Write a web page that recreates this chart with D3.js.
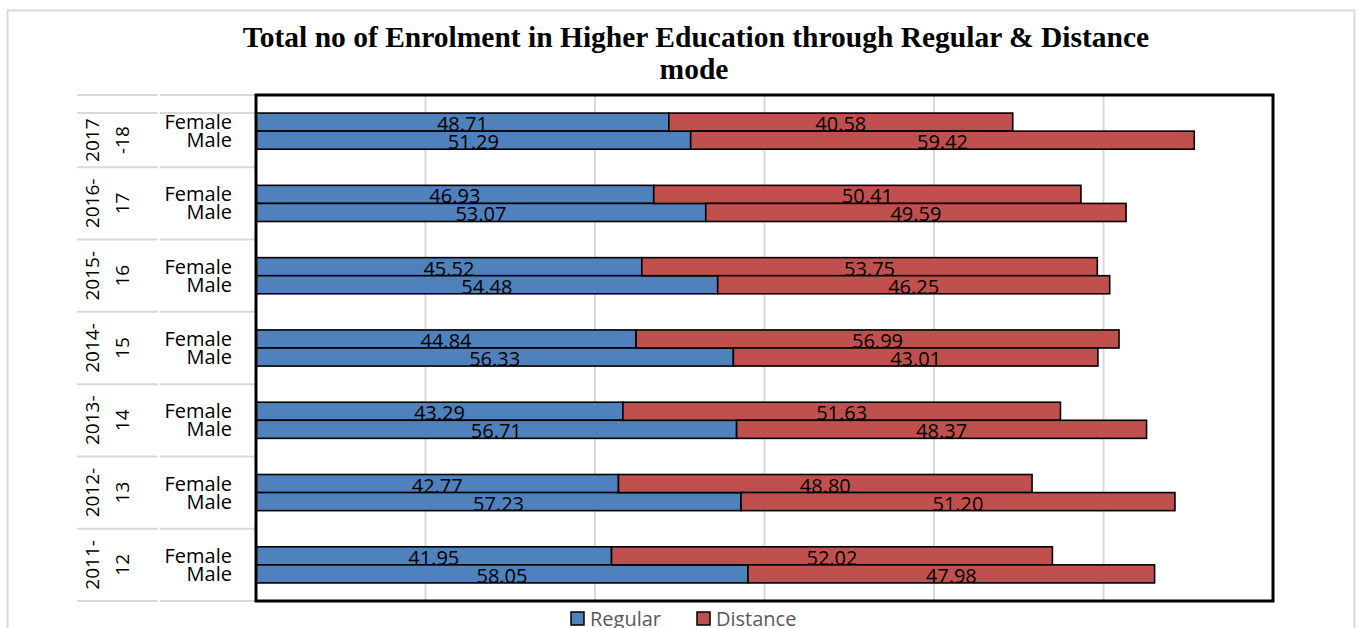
<!DOCTYPE html>
<html>
<head>
<meta charset="utf-8">
<script src="https://cdn.jsdelivr.net/npm/d3@7"></script>
<style>
  body { margin: 0; background: #fff; }
  svg { display: block; }
</style>
</head>
<body>
<svg width="1358" height="628"></svg>
<script>
// years top to bottom, as in the picture
const years = [["2017", "-18"], ["2016-", "17"], ["2015-", "16"], ["2014-", "15"],
               ["2013-", "14"], ["2012-", "13"], ["2011-", "12"]];
const genders = ["Female", "Male"];
const series = ["Regular", "Distance"];
const regularFemale  = [48.71, 46.93, 45.52, 44.84, 43.29, 42.77, 41.95];
const regularMale    = [51.29, 53.07, 54.48, 56.33, 56.71, 57.23, 58.05];
const distanceFemale = [40.58, 50.41, 53.75, 56.99, 51.63, 48.80, 52.02];
const distanceMale   = [59.42, 49.59, 46.25, 43.01, 48.37, 51.20, 47.98];
const xTicks = [0, 20, 40, 60, 80, 100, 120];

const colors = {Regular: "#4F81BD", Distance: "#C0504D"};

const svg = d3.select("svg");
const plotL = 256, plotR = 1273, plotT = 95, plotB = 601;

// outer chart border
svg.append("rect")
  .attr("x", 7.5).attr("y", 10.5)
  .attr("width", 1347).attr("height", 640)
  .attr("fill", "none").attr("stroke", "#d9d9d9").attr("stroke-width", 2);

// title
const title = svg.append("text")
  .attr("text-anchor", "middle")
  .style("font-family", "'Liberation Serif', 'Times New Roman', serif")
  .style("font-weight", "bold").style("font-size", "29.5px");
title.append("tspan").attr("x", 696).attr("y", 47)
  .text("Total no of Enrolment in Higher Education through Regular & Distance");
title.append("tspan").attr("x", 694).attr("y", 79).text("mode");

const yearKeys = years.map(d => d.join(""));
const y = d3.scaleBand().domain(yearKeys).range([plotT, plotB]);
const yInner = d3.scaleBand().domain(genders).range([0, y.bandwidth()]).paddingOuter(1);
const x = d3.scaleLinear().domain([0, 120]).range([plotL, plotR]);

// gridlines
svg.append("g").selectAll("line")
  .data(xTicks.slice(1, -1))
  .join("line")
  .attr("x1", d => x(d)).attr("x2", d => x(d))
  .attr("y1", plotT).attr("y2", plotB)
  .attr("stroke", "#d9d9d9").attr("stroke-width", 2);

// category table lines
const sepYs = [plotT, plotT + 18].concat(yearKeys.slice(1).map(k => y(k)), [plotB]);
const tbl = svg.append("g");
tbl.selectAll("line.a").data(sepYs).join("line")
  .attr("x1", 77).attr("x2", 158).attr("y1", d => d).attr("y2", d => d)
  .attr("stroke", "#d9d9d9").attr("stroke-width", 2);
tbl.selectAll("line.b").data(sepYs).join("line")
  .attr("x1", 160).attr("x2", 255).attr("y1", d => d).attr("y2", d => d)
  .attr("stroke", "#d9d9d9").attr("stroke-width", 2);

// rows
const rows = [];
years.forEach((yr, i) => {
  const key = yearKeys[i];
  rows.push({key, g: "Female", Regular: regularFemale[i], Distance: distanceFemale[i]});
  rows.push({key, g: "Male", Regular: regularMale[i], Distance: distanceMale[i]});
});
const stacked = d3.stack().keys(series)(rows);

const bars = svg.append("g");
stacked.forEach(s => {
  bars.selectAll(null).data(s).join("rect")
    .attr("x", d => x(d[0]))
    .attr("y", d => y(d.data.key) + yInner(d.data.g))
    .attr("width", d => x(d[1]) - x(d[0]))
    .attr("height", yInner.bandwidth())
    .attr("fill", colors[s.key])
    .attr("stroke", "#000").attr("stroke-width", 1.6);
});

const labelFont = "'Open Sans', 'Noto Sans', sans-serif";
stacked.forEach(s => {
  bars.selectAll(null).data(s).join("text")
    .attr("x", d => (x(d[0]) + x(d[1])) / 2)
    .attr("y", d => y(d.data.key) + yInner(d.data.g) + yInner.bandwidth() / 2 + 2)
    .attr("dy", "0.35em")
    .attr("text-anchor", "middle")
    .style("font-family", labelFont).style("font-size", "20px").attr("fill", "#000")
    .text(d => (d[1] - d[0]).toFixed(2));
});

// gender labels
svg.append("g").selectAll("text").data(rows).join("text")
  .attr("x", 232)
  .attr("y", d => y(d.key) + yInner(d.g) + yInner.bandwidth() / 2)
  .attr("dy", "0.35em")
  .attr("text-anchor", "end")
  .style("font-family", labelFont).style("font-size", "20px").attr("fill", "#000")
  .text(d => d.g);

// year labels (rotated, two lines)
years.forEach((yr, i) => {
  const cy = i === 0 ? (plotT + 18 + y(yearKeys[1])) / 2 : y(yearKeys[i]) + y.bandwidth() / 2;
  const t = svg.append("text")
    .attr("transform", `translate(107,${cy}) rotate(-90)`)
    .attr("text-anchor", "middle")
    .style("font-family", labelFont).style("font-size", "19px").attr("fill", "#000");
  t.append("tspan").attr("x", 0).attr("y", -8).text(yr[0]);
  t.append("tspan").attr("x", 0).attr("y", 22).text(yr[1]);
});

// plot border
svg.append("rect")
  .attr("x", plotL).attr("y", plotT)
  .attr("width", plotR - plotL).attr("height", plotB - plotT)
  .attr("fill", "none").attr("stroke", "#000").attr("stroke-width", 3);

// legend
const legend = svg.append("g");
const legX = [571, 697];
series.forEach((s, i) => {
  legend.append("rect")
    .attr("x", legX[i]).attr("y", 612).attr("width", 13).attr("height", 13)
    .attr("fill", colors[s]).attr("stroke", "#000").attr("stroke-width", 1.5);
  legend.append("text")
    .attr("x", legX[i] + 19).attr("y", 619).attr("dy", "0.35em")
    .style("font-family", labelFont).style("font-size", "20px").attr("fill", "#595959")
    .text(s);
});
</script>
</body>
</html>
